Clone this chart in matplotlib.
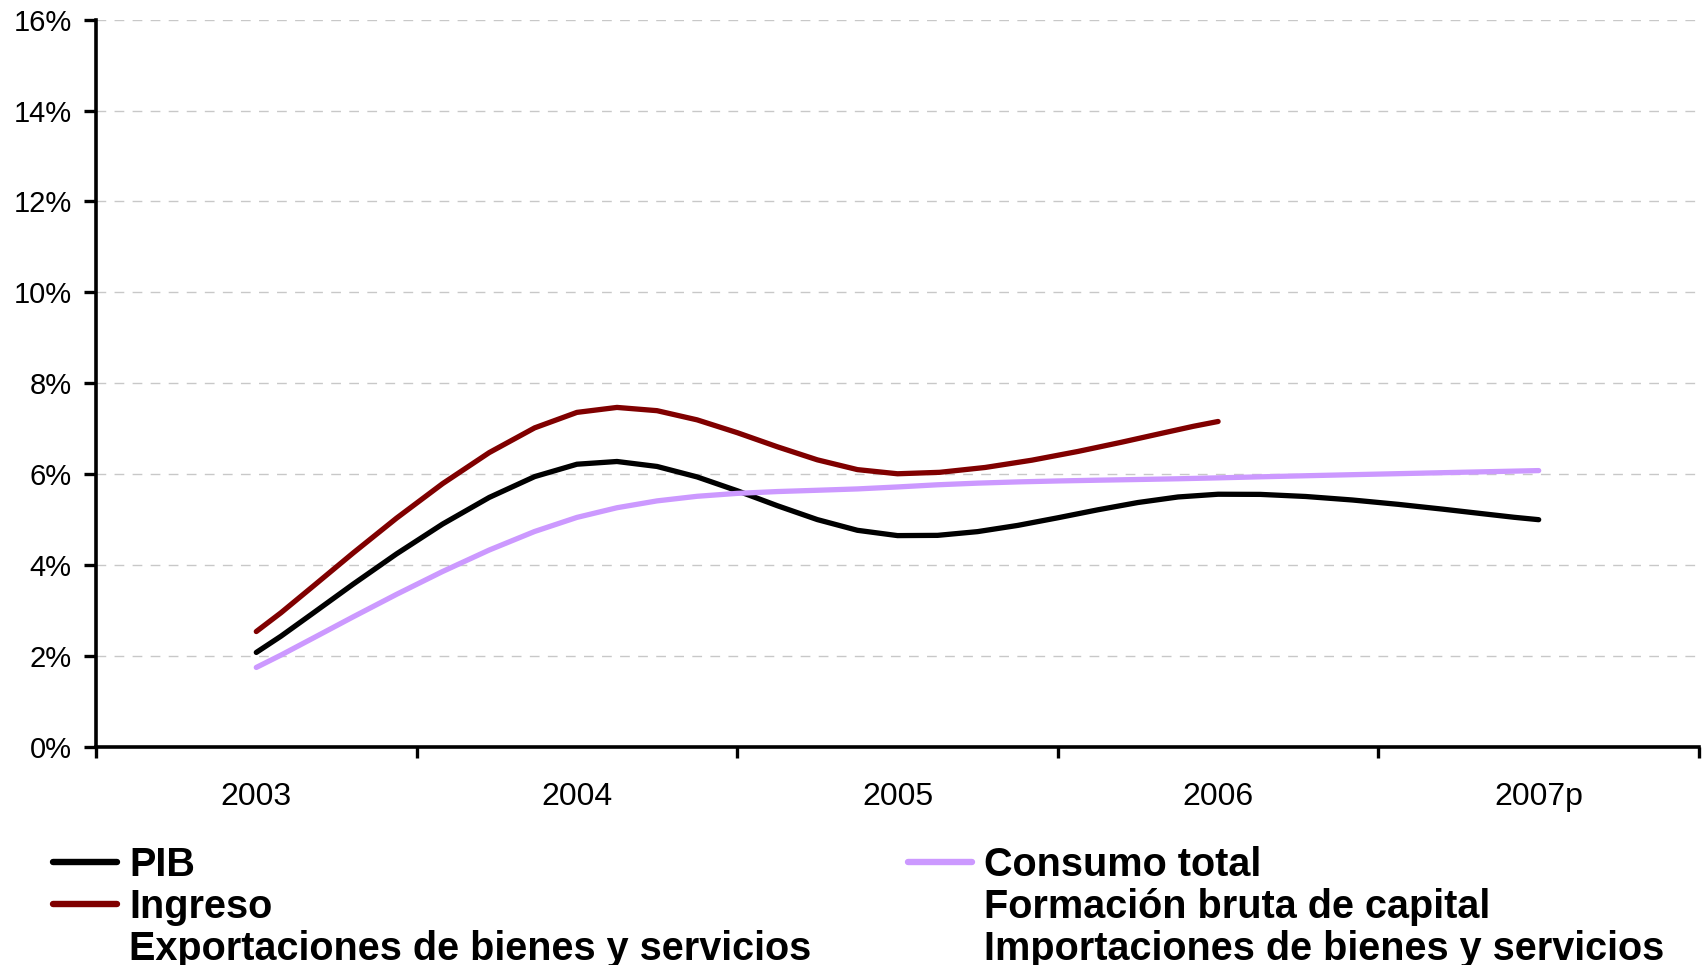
import matplotlib
matplotlib.use("Agg")
import matplotlib.pyplot as plt
from matplotlib.lines import Line2D
from matplotlib.ticker import FixedLocator, FuncFormatter
import numpy as np

plt.rcParams['font.family'] = ['Liberation Sans', 'DejaVu Sans']

# data (percent growth)
years = ['2003', '2004', '2005', '2006', '2007p']
pib = [2.08, 6.22, 4.65, 5.56, 5.00]
ingreso = [2.54, 7.36, 6.01, 7.16, np.nan]
consumo = [1.75, 5.05, 5.72, 5.92, 6.08]

legend_names = ['PIB', 'Consumo total', 'Ingreso', 'Formación bruta de capital',
                'Exportaciones de bienes y servicios', 'Importaciones de bienes y servicios']


def smooth(xs, ys, n=8):
    """Excel-like smoothed line (Catmull-Rom bezier)"""
    pts = np.array([(x, y) for x, y in zip(xs, ys) if not np.isnan(y)], dtype=float)
    out = [pts[0]]
    for i in range(len(pts) - 1):
        p0 = pts[i - 1] if i > 0 else pts[i]
        p1 = pts[i]
        p2 = pts[i + 1]
        p3 = pts[i + 2] if i + 2 < len(pts) else pts[i + 1]
        c1 = p1 + (p2 - p0) / 6
        c2 = p2 - (p3 - p1) / 6
        for t in np.linspace(0, 1, n + 1)[1:]:
            b = ((1 - t) ** 3) * p1 + 3 * ((1 - t) ** 2) * t * c1 + 3 * (1 - t) * t ** 2 * c2 + t ** 3 * p2
            out.append(b)
    out = np.array(out)
    return out[:, 0], out[:, 1]


fig = plt.figure(figsize=(17.08, 9.65), dpi=100)
ax = fig.add_axes([96 / 1708, 1 - 747 / 965, (1699 - 96) / 1708, (747 - 19.6) / 965])

x = np.arange(len(years))
series = [(pib, 'black'), (ingreso, '#800000'), (consumo, '#CC99FF')]
for vals, col in series:
    sx, sy = smooth(x, vals)
    ax.plot(sx, sy, color=col, lw=3.8, solid_capstyle='round', solid_joinstyle='round', zorder=3)

ax.set_xlim(-0.5, len(years) - 0.5)
ax.set_ylim(0, 16)

ax.set_yticks(np.arange(0, 17, 2))
ax.yaxis.set_major_formatter(FuncFormatter(lambda v, p: f'{v:.0f}%'))
ax.tick_params(axis='y', length=8.5, width=2.4, pad=9, labelsize=21, color='black')
ax.yaxis.grid(True, color='#C8C8C8', lw=1, linestyle=(0, (7, 6)))
ax.set_axisbelow(True)

ax.set_xticks(x)
ax.set_xticklabels(years)
ax.xaxis.set_minor_locator(FixedLocator(np.arange(-0.5, len(years), 1)))
ax.tick_params(axis='x', which='major', length=0, pad=25, labelsize=23)
ax.tick_params(axis='x', which='minor', length=8, width=2.4, color='black')

for s in ['top', 'right']:
    ax.spines[s].set_visible(False)
for s in ['left', 'bottom']:
    ax.spines[s].set_linewidth(2.6)

# legend (Excel order is row-wise, matplotlib fills columns)
colors = {'PIB': 'black', 'Ingreso': '#800000', 'Consumo total': '#CC99FF'}
handles = []
for name in legend_names:
    c = colors.get(name, 'none')
    handles.append(Line2D([], [], color=c, lw=4.6, solid_capstyle='round'))
order = [0, 2, 4, 1, 3, 5]
leg = fig.legend([handles[i] for i in order], [legend_names[i] for i in order],
                 loc='upper left', bbox_to_anchor=(53 / 1708, 1 - 846 / 965),
                 ncol=2, frameon=False, borderpad=0, borderaxespad=0,
                 handlelength=1.62, handletextpad=0.3, columnspacing=2.45,
                 labelspacing=0.1, prop={'size': 28.5, 'weight': 'bold'})

fig.savefig('out.png', dpi=100)
